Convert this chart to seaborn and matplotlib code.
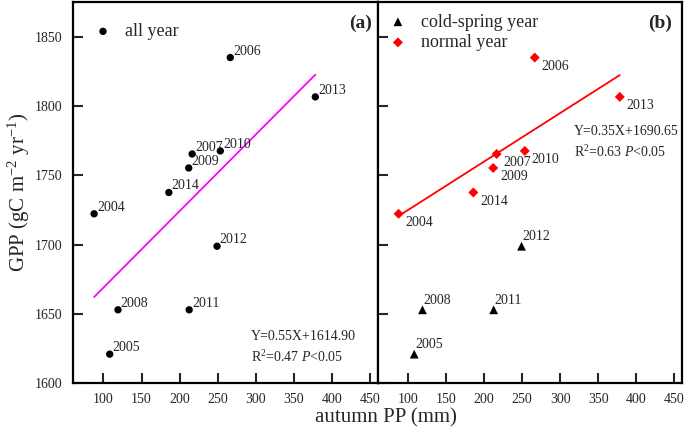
import matplotlib
matplotlib.use("Agg")
import matplotlib.pyplot as plt
import seaborn as sns
import pandas as pd

# values
years = [2004, 2005, 2006, 2007, 2008, 2009, 2010, 2011, 2012, 2013, 2014]
autumn_pp = [87.7, 108.2, 266.6, 216.5, 119.1, 212.0, 253.5, 212.6, 249.2, 378.3, 185.9]
gpp = [1722.2, 1620.9, 1835.0, 1765.4, 1652.9, 1755.3, 1767.6, 1652.9, 1698.8, 1806.6, 1737.6]
cold_spring = [2005, 2008, 2011, 2012]

eq_all = ["Y=0.55X+1614.90", "R$^2$=0.47 $P$<0.05"]
eq_normal = ["Y=0.35X+1690.65", "R$^2$=0.63 $P$<0.05"]

df = pd.DataFrame({"year": years, "pp": autumn_pp, "gpp": gpp})
df["group"] = ["cold" if y in cold_spring else "normal" for y in years]
cold = df[df.group == "cold"]
normal = df[df.group == "normal"]

sns.set_style("white")
plt.rcParams["font.family"] = ["Liberation Serif", "DejaVu Serif"]
plt.rcParams["mathtext.fontset"] = "custom"
plt.rcParams["mathtext.rm"] = "Liberation Serif"
plt.rcParams["mathtext.it"] = "Liberation Serif:italic"

fig, (ax1, ax2) = plt.subplots(1, 2, figsize=(6.85, 4.29), dpi=100, sharey=True)
fig.subplots_adjust(left=0.1066, right=0.9956, bottom=0.107, top=0.995, wspace=0)

# panel (a): all years
sns.scatterplot(data=df, x="pp", y="gpp", ax=ax1, color="black", s=28,
                edgecolor="none", label="all year")
sns.regplot(data=df, x="pp", y="gpp", ax=ax1, scatter=False, ci=None,
            color="#ff00ff", line_kws={"lw": 1.3})
for _, r in df.iterrows():
    ax1.annotate(str(r.year), (r.pp, r.gpp), xytext=(2, 0), textcoords="offset points",
                 ha="left", va="bottom", fontsize=10)
ax1.text(0.584, 0.1215, eq_all[0], transform=ax1.transAxes, fontsize=10, va="center")
ax1.text(0.584, 0.069, eq_all[1], transform=ax1.transAxes, fontsize=10, va="center")
ax1.text(0.982, 0.944, "(a)", transform=ax1.transAxes, fontsize=14,
         fontweight="bold", ha="right", va="center")
ax1.legend(loc="upper left", frameon=False, fontsize=13, handlelength=1.0,
           handletextpad=0.7, borderaxespad=0.8, borderpad=0.36)

# panel (b): cold-spring vs normal years
sns.scatterplot(data=cold, x="pp", y="gpp", ax=ax2, color="black", marker="^",
                s=40, edgecolor="none", label="cold-spring year")
sns.scatterplot(data=normal, x="pp", y="gpp", ax=ax2, color="red", marker="D",
                s=26, edgecolor="none", label="normal year")
sns.regplot(data=normal, x="pp", y="gpp", ax=ax2, scatter=False, ci=None,
            color="red", line_kws={"lw": 1.3})
for _, r in cold.iterrows():
    ax2.annotate(str(r.year), (r.pp, r.gpp), xytext=(0.5, 2), textcoords="offset points",
                 ha="left", va="bottom", fontsize=10)
for _, r in normal.iterrows():
    ax2.annotate(str(r.year), (r.pp, r.gpp), xytext=(5, -1.5), textcoords="offset points",
                 ha="left", va="top", fontsize=10)
ax2.text(0.644, 0.66, eq_normal[0], transform=ax2.transAxes, fontsize=10, va="center")
ax2.text(0.644, 0.607, eq_normal[1], transform=ax2.transAxes, fontsize=10, va="center")
ax2.text(0.966, 0.944, "(b)", transform=ax2.transAxes, fontsize=14,
         fontweight="bold", ha="right", va="center")
ax2.legend(loc="upper left", frameon=False, fontsize=13, handlelength=1.0,
           handletextpad=0.8, borderaxespad=0.3, borderpad=0.33, labelspacing=0.2)

for ax in (ax1, ax2):
    ax.set_xlim(60, 460)
    ax.set_ylim(1600, 1875)
    ax.set_xticks(range(100, 451, 50))
    ax.set_yticks(range(1600, 1851, 50))
    ax.set_xlabel("")
    ax.set_ylabel("")
    ax.tick_params(direction="in", length=7, width=1.5, labelsize=10,
                   top=False, right=False, bottom=True, left=True)
    ax.tick_params(axis="y", pad=8)
    ax.tick_params(axis="x", pad=7)
    for sp in ax.spines.values():
        sp.set_linewidth(1.6)
        sp.set_color("black")
ax2.tick_params(labelleft=False)

fig.text(0.5635, 0.025, "autumn PP (mm)", ha="center", va="center", fontsize=15)
fig.text(0.027, 0.552, "GPP (gC m$^{-2}$ yr$^{-1}$)", rotation=90,
         ha="center", va="center", fontsize=15)

fig.savefig("out.png", dpi=100)
